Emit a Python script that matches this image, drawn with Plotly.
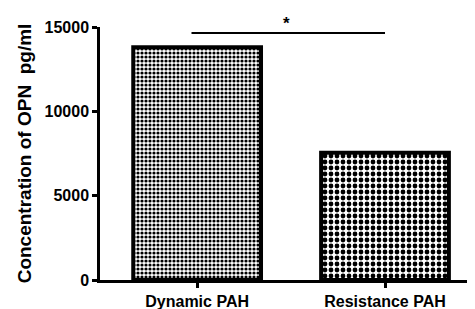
import plotly.graph_objects as go

categories = ["Dynamic PAH", "Resistance PAH"]
values = [13800, 7550]
y_ticks = [0, 5000, 10000, 15000]
y_tick_labels = ["0", "5000", "10000", "15000"]
y_title = "Concentration of OPN\u00a0\u00a0pg/ml"
sig_label = "*"

font_family = "Liberation Sans, Arial, sans-serif"

fig = go.Figure()
fig.add_trace(go.Bar(
    x=[0, 1],
    y=values,
    width=0.68,
    marker=dict(
        color="white",
        line=dict(color="black", width=4),
        pattern=dict(shape=[".", "."], size=[4, 6], solidity=[0.5, 0.5],
                     fgcolor="black", bgcolor="white", fillmode="replace"),
    ),
))

# significance bracket
fig.add_shape(type="line", xref="x", yref="y", x0=-0.03, x1=1.0, y0=14650, y1=14650,
              line=dict(color="black", width=2))
fig.add_annotation(x=0.475, y=14650, xref="x", yref="y", text="<b>" + sig_label + "</b>",
                   showarrow=False, yanchor="bottom", yshift=-2,
                   font=dict(family=font_family, size=17, color="black"))

# page body has an 8px margin, so the figure is shrunk by 8px on each axis
fig.update_layout(
    template="none",
    width=467, height=301,
    margin=dict(l=92, r=0, t=19, b=29, pad=0),
    paper_bgcolor="white", plot_bgcolor="white",
    showlegend=False,
    font=dict(family=font_family, color="black"),
    xaxis=dict(
        automargin=False,
        range=[-0.517, 1.479],
        tickvals=[0, 1], ticktext=["<b>%s</b>" % c for c in categories],
        showline=True, linecolor="black", linewidth=2.5,
        ticks="outside", ticklen=5, tickwidth=2.5, tickcolor="black",
        tickfont=dict(size=16, family=font_family, color="black"),
        ticklabelstandoff=0,
        showgrid=False, zeroline=False,
    ),
    yaxis=dict(
        automargin=False,
        range=[0, 15000],
        tickvals=y_ticks, ticktext=["<b>%s</b>" % t for t in y_tick_labels],
        showline=True, linecolor="black", linewidth=2.5,
        ticks="outside", ticklen=5, tickwidth=2.5, tickcolor="black",
        tickfont=dict(size=16, family=font_family, color="black"),
        showgrid=False, zeroline=False,
        title=dict(text="<b>" + y_title + "</b>",
                   font=dict(size=19, family=font_family, color="black"), standoff=8),
    ),
)

fig.write_html("out.html")
